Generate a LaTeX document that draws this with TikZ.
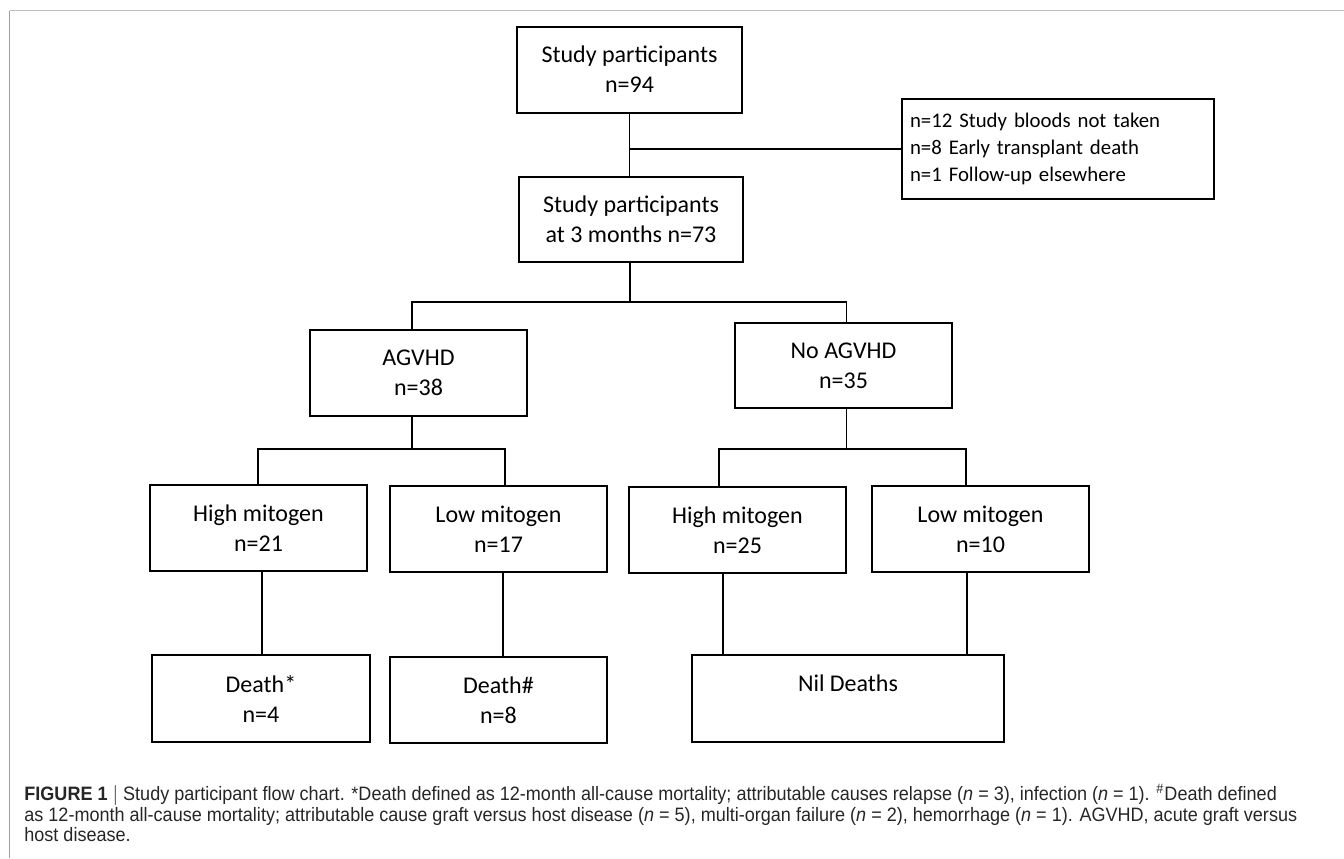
\documentclass[tikz,border=0pt]{standalone}
\usepackage{fontspec}
\setmainfont{Carlito}
\newfontfamily\capfont[FakeStretch=0.93]{Liberation Sans}
\usepackage{tikz}

\begin{document}
\begin{tikzpicture}[x=0.5pt, y=-0.5pt,
				box/.style={draw, line width=1pt, inner sep=0pt, align=center,
					font=\fontsize{12}{15}\selectfont,
					minimum width=108.5pt, minimum height=43pt},
				link/.style={line width=0.9pt},
				frame/.style={line width=0.8pt}]
				\useasboundingbox (0,0) rectangle (1344,858);
				% outer frame of the figure
				\draw[frame, gray!75] (9.5,858) -- (9.5,10.5);
				\draw[frame, gray!50] (9.5,10.5) -- (1344,10.5);
				% boxes
				\node at (629.5,69.5) (study) [box, minimum width=112.5pt] {Study participants\\n=94};
				\node at (1058,149) (excl) [box, align=left, minimum width=156pt, minimum height=50pt,
					text width=148pt, font=\fontsize{10.4}{13.5}\selectfont] {n=12 Study bloods not taken\\n=8 Early transplant death\\n=1 Follow-up elsewhere};
				\node at (631,219.5) (study3) [box, minimum width=112pt, minimum height=42.5pt] {Study participants\\at 3 months n=73};
				\node at (418.5,373) (agvhd) [box] {AGVHD\\n=38};
				\node at (843.5,365.7) (noagvhd) [box, minimum height=42.75pt] {No AGVHD\\n=35};
				\node at (258.5,528) (highA) [box] {High mitogen\\n=21};
				\node at (498.5,529) (lowA) [box] {Low mitogen\\n=17};
				\node at (737.5,530) (highN) [box] {High mitogen\\n=25};
				\node at (980.5,529) (lowN) [box] {Low mitogen\\n=10};
				\node at (261,698.5) (deathA) [box, minimum width=109pt, minimum height=43.5pt] {Death*\\n=4};
				\node at (498.5,700) (deathB) [box] {Death\#\\n=8};
				\node at (848,698.5) (nil) [box, minimum width=156pt, minimum height=43.5pt] {Nil Deaths\\~};
				% junction points
				\coordinate (fork1) at (630,302);
				\coordinate (fork2) at (412,449);
				\coordinate (fork3) at (846.5,449);
				\coordinate (legHA) at (258,449);
				\coordinate (legLA) at (505,449);
				\coordinate (legHN) at (719,449);
				\coordinate (legLN) at (966,449);
				\coordinate (dropHA) at (262,0);
				\coordinate (dropLA) at (503,0);
				\coordinate (dropHN) at (723,0);
				\coordinate (dropLN) at (967,0);
				% connectors
				\draw[link] (study.south) -- (study.south |- study3.north);
				\draw[link] (excl.west) -- (excl.west -| study.south);
				\draw[link] (study3.south -| fork1) -- (fork1);
				\draw[link] (fork2 |- agvhd.north) -- (fork2 |- fork1) -- (fork3 |- fork1) -- (fork3 |- noagvhd.north);
				\draw[link] (fork2 |- agvhd.south) -- (fork2);
				\draw[link] (legHA |- highA.north) -- (legHA) -- (legLA) -- (legLA |- lowA.north);
				\draw[link] (fork3 |- noagvhd.south) -- (fork3);
				\draw[link] (legHN |- highN.north) -- (legHN) -- (legLN) -- (legLN |- lowN.north);
				\draw[link] (dropHA |- highA.south) -- (dropHA |- deathA.north);
				\draw[link] (dropLA |- lowA.south) -- (dropLA |- deathB.north);
				\draw[link] (dropHN |- highN.south) -- (dropHN |- nil.north);
				\draw[link] (dropLN |- lowN.south) -- (dropLN |- nil.north);
				% caption
				\node at (24,784) (caption) [anchor=north west, align=left, inner sep=0pt, text=black!85,
					font=\capfont\fontsize{9.7}{10.25}\selectfont] {{\bfseries FIGURE 1} $|$ Study participant flow chart. *Death defined as 12-month all-cause mortality; attributable causes relapse (\textit{n} = 3), infection (\textit{n} = 1). \textsuperscript{\#}Death defined\\
					as 12-month all-cause mortality; attributable cause graft versus host disease (\textit{n} = 5), multi-organ failure (\textit{n} = 2), hemorrhage (\textit{n} = 1). AGVHD, acute graft versus\\
					host disease.};
			\end{tikzpicture}
\end{document}
